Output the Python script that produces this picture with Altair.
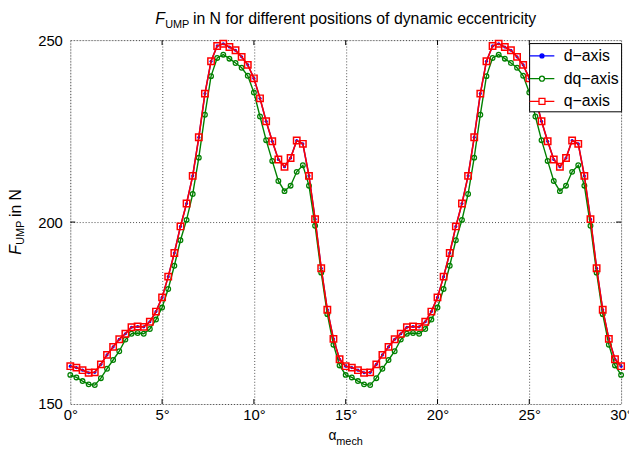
import altair as alt
import pandas as pd

# ---------------- data ----------------
alpha_deg = [0.0, 0.333, 0.667, 1.0, 1.333, 1.667, 2.0, 2.333, 2.667, 3.0,
             3.333, 3.667, 4.0, 4.333, 4.667, 5.0, 5.333, 5.667, 6.0, 6.333,
             6.667, 7.0, 7.333, 7.667, 8.0, 8.333, 8.667, 9.0, 9.333, 9.667,
             10.0, 10.333, 10.667, 11.0, 11.333, 11.667, 12.0, 12.333, 12.667, 13.0,
             13.333, 13.667, 14.0, 14.333, 14.667, 15.0, 15.333, 15.667, 16.0, 16.333,
             16.667, 17.0, 17.333, 17.667, 18.0, 18.333, 18.667, 19.0, 19.333, 19.667,
             20.0, 20.333, 20.667, 21.0, 21.333, 21.667, 22.0, 22.333, 22.667, 23.0,
             23.333, 23.667, 24.0, 24.333, 24.667, 25.0, 25.333, 25.667, 26.0, 26.333,
             26.667, 27.0, 27.333, 27.667, 28.0, 28.333, 28.667, 29.0, 29.333, 29.667,
             30.0]

d_axis = [160.4, 160.0, 159.3, 158.6, 158.7, 160.9, 163.5, 165.7, 167.8, 169.3,
          171.1, 171.3, 171.2, 172.6, 175.4, 179.3, 185.0, 191.5, 198.8, 205.1,
          212.7, 223.3, 235.3, 244.2, 248.4, 249.0, 248.1, 247.2, 245.4, 243.2,
          239.5, 234.0, 227.7, 222.2, 217.2, 215.2, 217.6, 222.4, 221.5, 212.7,
          200.8, 187.3, 175.9, 167.9, 162.3, 160.4, 160.0, 159.3, 158.6, 158.7,
          160.9, 163.5, 165.7, 167.8, 169.3, 171.1, 171.3, 171.2, 172.6, 175.4,
          179.3, 185.0, 191.5, 198.8, 205.1, 212.7, 223.3, 235.3, 244.2, 248.4,
          249.0, 248.1, 247.2, 245.4, 243.2, 239.5, 234.0, 227.7, 222.2, 217.2,
          215.2, 217.6, 222.4, 221.5, 212.7, 200.8, 187.3, 175.9, 167.9, 162.3,
          160.4]

dq_axis = [158.0, 157.3, 156.3, 155.4, 155.2, 157.1, 159.7, 162.1, 164.5, 167.7,
           169.3, 169.5, 169.3, 170.6, 173.2, 176.5, 181.6, 188.0, 195.0, 200.6,
           207.7, 217.7, 229.5, 240.1, 245.1, 246.0, 244.9, 243.7, 242.4, 240.2,
           235.6, 229.0, 222.5, 216.8, 211.3, 208.5, 210.0, 213.8, 215.6, 210.0,
           199.0, 186.1, 174.7, 166.3, 160.6, 158.0, 157.3, 156.3, 155.4, 155.2,
           157.1, 159.7, 162.1, 164.5, 167.7, 169.3, 169.5, 169.3, 170.6, 173.2,
           176.5, 181.6, 188.0, 195.0, 200.6, 207.7, 217.7, 229.5, 240.1, 245.1,
           246.0, 244.9, 243.7, 242.4, 240.2, 235.6, 229.0, 222.5, 216.8, 211.3,
           208.5, 210.0, 213.8, 215.6, 210.0, 199.0, 186.1, 174.7, 166.3, 160.6,
           158.0]

q_axis = [160.4, 160.0, 159.3, 158.6, 158.7, 160.9, 163.5, 165.7, 167.8, 169.3,
          171.1, 171.3, 171.2, 172.6, 175.4, 179.3, 185.0, 191.5, 198.8, 205.1,
          212.7, 223.3, 235.3, 244.2, 248.4, 249.0, 248.1, 247.2, 245.4, 243.2,
          239.5, 234.0, 227.7, 222.2, 217.2, 215.2, 217.6, 222.4, 221.5, 212.7,
          200.8, 187.3, 175.9, 167.9, 162.3, 160.4, 160.0, 159.3, 158.6, 158.7,
          160.9, 163.5, 165.7, 167.8, 169.3, 171.1, 171.3, 171.2, 172.6, 175.4,
          179.3, 185.0, 191.5, 198.8, 205.1, 212.7, 223.3, 235.3, 244.2, 248.4,
          249.0, 248.1, 247.2, 245.4, 243.2, 239.5, 234.0, 227.7, 222.2, 217.2,
          215.2, 217.6, 222.4, 221.5, 212.7, 200.8, 187.3, 175.9, 167.9, 162.3,
          160.4]

series_names = ["d\u2212axis", "dq\u2212axis", "q\u2212axis"]
series_colors = ["#0000ff", "#008000", "#ff0000"]

x_ticks = [0, 5, 10, 15, 20, 25, 30]
x_inner_ticks = [5, 10, 15, 20, 25]
y_ticks = [150, 200, 250]
y_inner_ticks = [200]

title_sym = "F"
title_sub = "UMP"
title_rest = "in N for different positions of dynamic eccentricity"
ylab_rest = "in N"
xlab_sym = "\u03b1"
xlab_sub = "mech"

FONT = "Liberation Sans"

# ---------------- frame ----------------
rows = []
for name, vals in zip(series_names, [d_axis, dq_axis, q_axis]):
    for a, v in zip(alpha_deg, vals):
        rows.append({"series": name, "alpha": a, "F": v})
df = pd.DataFrame(rows)

xs = alt.Scale(domain=[0, 30], nice=False, zero=False)
ys = alt.Scale(domain=[150, 250], nice=False, zero=False)

X = alt.X("alpha:Q", scale=xs,
          axis=alt.Axis(values=x_ticks, labelExpr="datum.value + '\u00b0'", title=None,
                        grid=True, domain=False, ticks=False, labelPadding=4,
                        labelFontSize=15, labelFont=FONT, labelColor="black",
                        gridColor="#222", gridDash=[1, 2], gridOpacity=0.8,
                        labelFlush=False))
Y = alt.Y("F:Q", scale=ys,
          axis=alt.Axis(values=y_ticks, title=None, grid=True, domain=False, ticks=False,
                        labelPadding=8, labelFontSize=15, labelFont=FONT, labelColor="black",
                        gridColor="#222", gridDash=[1, 2], gridOpacity=0.8))

base = alt.Chart(df)

def line_layer(name, color, width):
    return base.transform_filter(alt.datum.series == name).mark_line(
        color=color, strokeWidth=width).encode(x=X, y=Y)

line_d = line_layer(series_names[0], series_colors[0], 1.4)
pts_d = base.transform_filter(alt.datum.series == series_names[0]).mark_point(
    shape="circle", filled=True, color=series_colors[0], size=10, opacity=1).encode(x=X, y=Y)
line_dq = line_layer(series_names[1], series_colors[1], 1.4)
pts_dq = base.transform_filter(alt.datum.series == series_names[1]).mark_point(
    shape="circle", filled=False, color=series_colors[1], size=22, strokeWidth=1.3,
    opacity=1).encode(x=X, y=Y)
line_q = line_layer(series_names[2], series_colors[2], 1.6)
pts_q = base.transform_filter(alt.datum.series == series_names[2]).mark_point(
    shape="square", filled=False, color=series_colors[2], size=42, strokeWidth=1.5,
    opacity=1).encode(x=X, y=Y)

# legend (symbols drawn as line + marker paths)
p_d = "M-1.25,0H1.25M0.2,0A0.2,0.2,0,1,1,-0.2,0A0.2,0.2,0,1,1,0.2,0Z"
p_dq = "M-1.25,0H-0.25M0.25,0H1.25M0.25,0A0.25,0.25,0,1,1,-0.25,0A0.25,0.25,0,1,1,0.25,0Z"
p_q = "M-1.25,0H-0.3M0.3,0H1.25M-0.3,-0.3H0.3V0.3H-0.3Z"

main_legend = alt.Legend(
    title=None, orient="none", legendX=464, legendY=3,
    strokeColor="black", fillColor="white", padding=2,
    symbolSize=400, symbolStrokeWidth=1.3, symbolOpacity=1,
    labelFont=FONT, labelFontSize=16, labelColor="black",
    rowPadding=4, labelOffset=11, cornerRadius=0,
)

legend_layer = base.mark_point(opacity=0.001, filled=False).encode(
    x=X, y=Y,
    stroke=alt.Stroke("series:N", scale=alt.Scale(domain=series_names, range=series_colors),
                      legend=main_legend),
    fill=alt.Fill("series:N", scale=alt.Scale(domain=series_names,
                                              range=["#0000ff", "transparent", "transparent"]),
                  legend=main_legend),
    shape=alt.Shape("series:N", scale=alt.Scale(domain=series_names, range=[p_d, p_dq, p_q]),
                    legend=main_legend),
)

# short inward tick marks (MATLAB style)
tick_x_df = pd.DataFrame({"t": x_inner_ticks})
tick_y_df = pd.DataFrame({"t": y_inner_ticks})
tx_b = alt.Chart(tick_x_df).mark_rule(color="black", strokeWidth=1).encode(
    x=alt.X("t:Q", scale=xs), y=alt.value(368), y2=alt.value(363))
tx_t = alt.Chart(tick_x_df).mark_rule(color="black", strokeWidth=1).encode(
    x=alt.X("t:Q", scale=xs), y=alt.value(0), y2=alt.value(5))
ty_l = alt.Chart(tick_y_df).mark_rule(color="black", strokeWidth=1).encode(
    y=alt.Y("t:Q", scale=ys), x=alt.value(0), x2=alt.value(5))
ty_r = alt.Chart(tick_y_df).mark_rule(color="black", strokeWidth=1).encode(
    y=alt.Y("t:Q", scale=ys), x=alt.value(557), x2=alt.value(552))

def txt(s, x, y, size, italic=False, angle=0):
    return alt.Chart(pd.DataFrame({"s": [s]})).mark_text(
        font=FONT, fontSize=size, fontStyle="italic" if italic else "normal",
        align="left", baseline="alphabetic", color="black", angle=angle
    ).encode(text="s:N", x=alt.value(x), y=alt.value(y))

texts = [
    txt(title_sym, 86, -16, 16, italic=True),
    txt(title_sub, 96, -12, 11),
    txt(title_rest, 124, -16, 16),
    txt(title_sym, -50, 217, 16, italic=True, angle=270),
    txt(title_sub, -47, 207, 11, angle=270),
    txt(ylab_rest, -50, 179, 16, angle=270),
    txt(xlab_sym, 261, 404, 14),
    txt(xlab_sub, 269, 409, 11),
]

chart = alt.layer(
    tx_b, tx_t, ty_l, ty_r,
    line_d, pts_d, line_dq, pts_dq, line_q, pts_q,
    legend_layer, *texts
).properties(
    width=557, height=368,
    autosize=alt.AutoSizeParams(type="none"),
    padding={"left": 63, "top": 30, "right": 8, "bottom": 41},
).configure_view(
    stroke="black", strokeWidth=1.2
).configure(background="white")

chart.save("out.html", embed_options={"renderer": "svg", "actions": False})
